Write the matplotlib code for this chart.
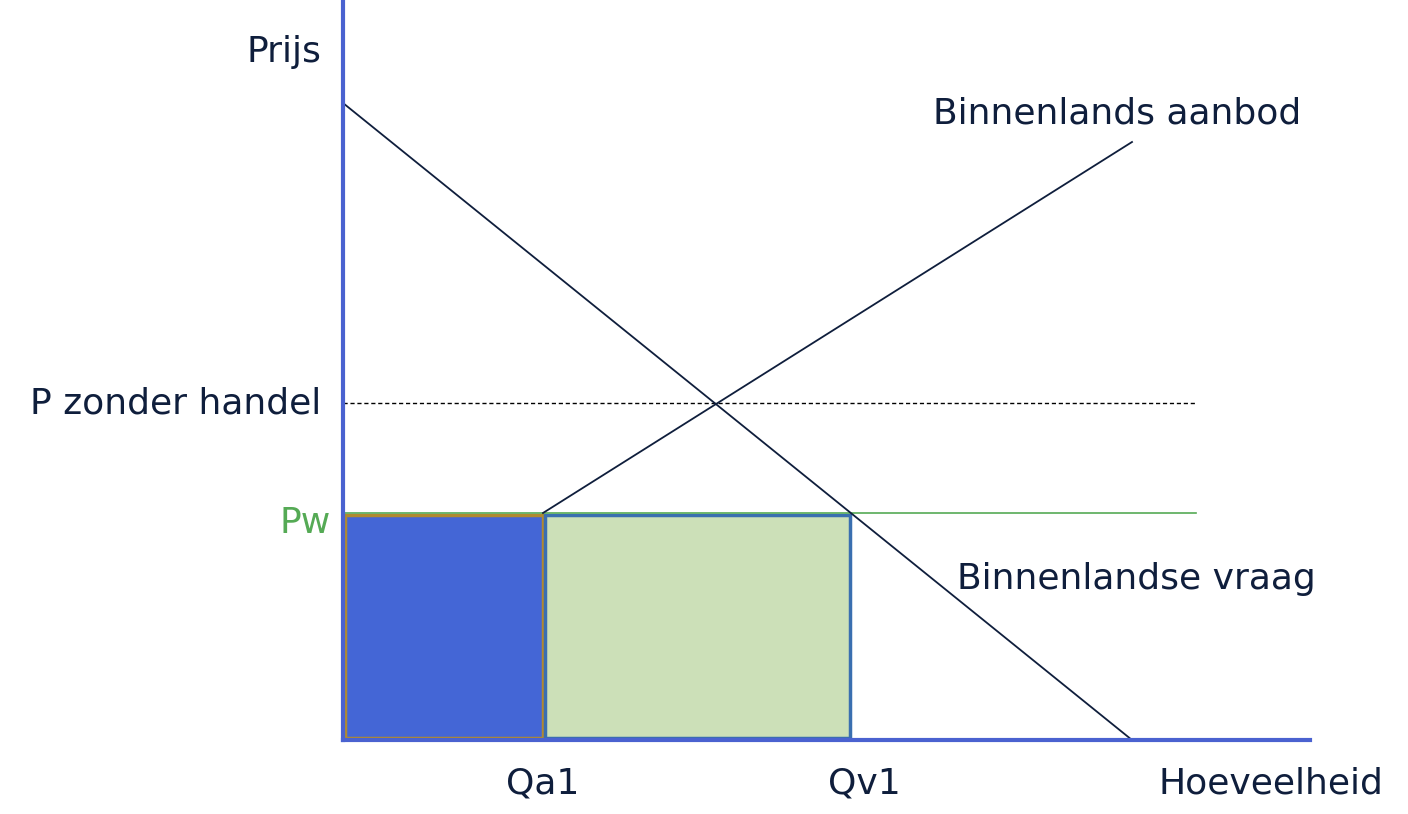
import numpy as np
import matplotlib.pyplot as plt

# data in chart units (origin at axes crossing)
demand_x = [0, 789]
demand_y = [637, 0]
supply_x = [200, 789]
supply_y = [227, 598]
pw = 227
p_no_trade = 337
qa1 = 200
qv1 = 507
line_end = 853
x_axis_end = 967
y_axis_top = 740

NAVY = "#0f1e3c"
AXBLUE = "#4a62d0"

fig = plt.figure(figsize=(14.08, 8.14), dpi=100)
ax = fig.add_axes([0, 0, 1, 1])
ax.set_xlim(-343, 1065)
ax.set_ylim(-74, 740)
ax.axis("off")

# rectangles
ax.add_patch(plt.Rectangle((2, 2), qa1 - 2, pw - 4, facecolor="#4466d6",
                           edgecolor="#b08a30", lw=2.5, zorder=2))
ax.add_patch(plt.Rectangle((qa1 + 2, 2), qv1 - qa1 - 2, pw - 4, facecolor="#cce0b8",
                           edgecolor="#3a6fb0", lw=2.5, zorder=2))

ax.plot([0, line_end], [pw, pw], color="#55aa55", lw=1.2, zorder=3)
ax.plot([0, line_end], [p_no_trade, p_no_trade], color="black", lw=1, ls=(0, (3, 2)), zorder=3)
ax.plot(demand_x, demand_y, color=NAVY, lw=1.3, zorder=4)
ax.plot(supply_x, supply_y, color=NAVY, lw=1.3, zorder=4)

# axes
ax.plot([0, 0], [0, y_axis_top], color=AXBLUE, lw=3, zorder=5)
ax.plot([0, x_axis_end], [0, 0], color=AXBLUE, lw=3, zorder=5)

fs = 26
ax.text(-22, 688, "Prijs", fontsize=fs, color=NAVY, ha="right", va="center")
ax.text(-22, p_no_trade, "P zonder handel", fontsize=fs, color=NAVY, ha="right", va="center")
ax.text(-12, pw - 10, "Pw", fontsize=fs, color="#55aa55", ha="right", va="center")
ax.text(590, 627, "Binnenlands aanbod", fontsize=fs, color=NAVY, va="center")
ax.text(614, 161, "Binnenlandse vraag", fontsize=fs, color=NAVY, va="center")
ax.text(qa1, -44, "Qa1", fontsize=fs, color=NAVY, ha="center", va="center")
ax.text(qv1 + 14, -44, "Qv1", fontsize=fs, color=NAVY, ha="center", va="center")
ax.text(1040, -44, "Hoeveelheid", fontsize=fs, color=NAVY, ha="right", va="center")

fig.savefig("out.png", dpi=100)
